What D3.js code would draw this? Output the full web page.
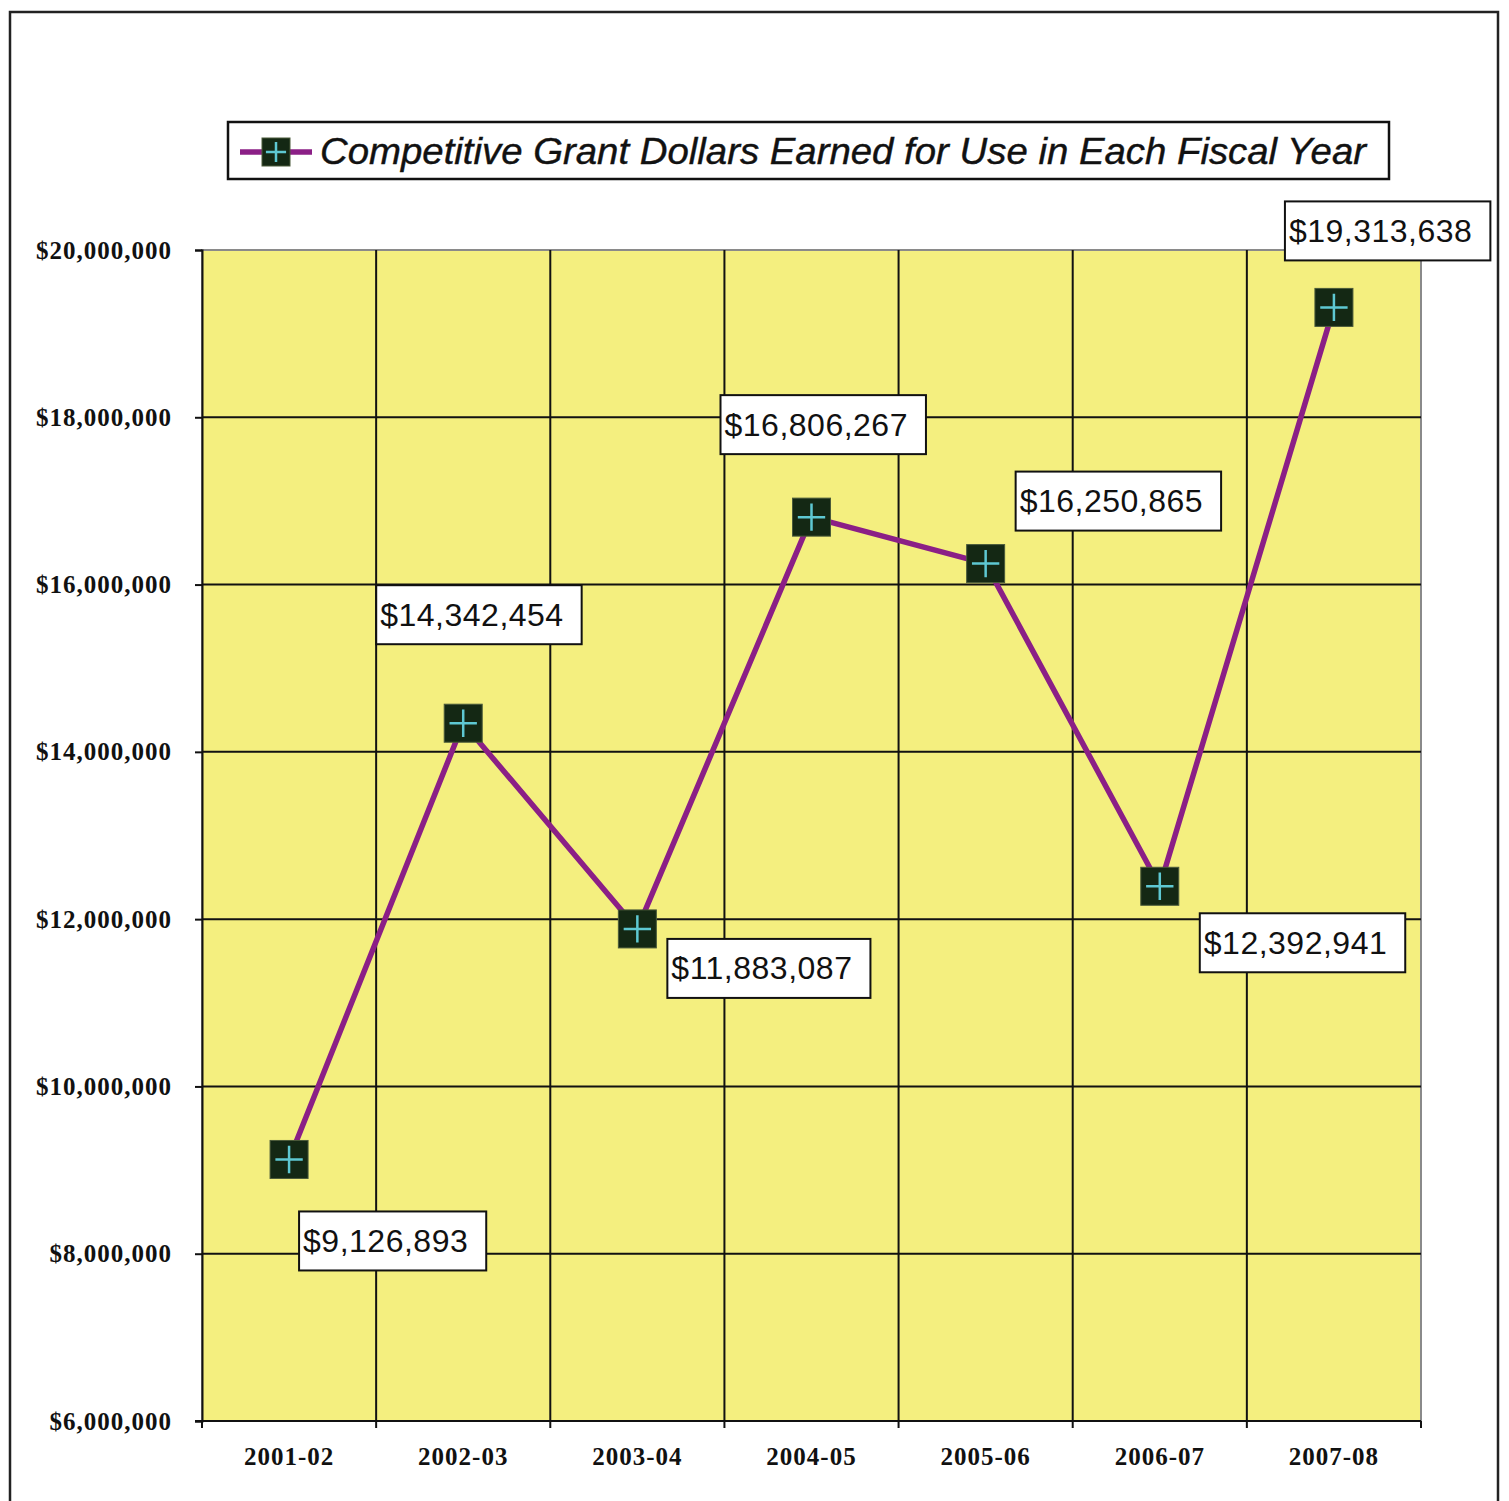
<!DOCTYPE html>
<html>
<head>
<meta charset="utf-8">
<script src="https://cdn.jsdelivr.net/npm/d3@7"></script>
<style>
  body { margin: 0; background: #fff; }
  svg { display: block; }
</style>
</head>
<body>
<div class="chart"></div>
<script>
const years = ["2001-02", "2002-03", "2003-04", "2004-05", "2005-06", "2006-07", "2007-08"];
const dollars = [9126893, 14342454, 11883087, 16806267, 16250865, 12392941, 19313638];
const yTicks = [6000000, 8000000, 10000000, 12000000, 14000000, 16000000, 18000000, 20000000];
const seriesName = "Competitive Grant Dollars Earned for Use in Each Fiscal Year";

// label box top-left offsets from each point
const labelDx = [10, -87, 30, -91, 30, 40, -49];
const labelDy = [52, -138, 10, -122, -92, 27, -106];

const W = 1509, H = 1501;
const plotL = 202, plotR = 1421, plotT = 250, plotB = 1421;

const svg = d3.select('.chart').append('svg')
  .attr('width', W).attr('height', H);

// outer frame (bottom edge cut off in the original)
svg.append('path')
  .attr('d', `M10,${H + 2} V12 H1498 V${H + 2}`)
  .attr('fill', 'none').attr('stroke', '#222').attr('stroke-width', 2.5);

const x = d3.scaleBand().domain(years).range([plotL, plotR]);
const y = d3.scaleLinear().domain([6000000, 20000000]).range([plotB, plotT]);

svg.append('rect')
  .attr('x', plotL).attr('y', plotT)
  .attr('width', plotR - plotL).attr('height', plotB - plotT)
  .attr('fill', '#f4ef7f')
  .attr('stroke', '#8a8a8a').attr('stroke-width', 2);

// horizontal gridlines
svg.append('g').selectAll('line')
  .data(yTicks.filter(d => d > 6000000 && d < 20000000))
  .join('line')
  .attr('x1', plotL).attr('x2', plotR)
  .attr('y1', d => y(d)).attr('y2', d => y(d))
  .attr('stroke', '#111').attr('stroke-width', 2);

// vertical gridlines between categories
const bounds = years.slice(1).map(d => x(d));
svg.append('g').selectAll('line')
  .data(bounds)
  .join('line')
  .attr('x1', d => d).attr('x2', d => d)
  .attr('y1', plotT).attr('y2', plotB + 7)
  .attr('stroke', '#111').attr('stroke-width', 2);

const tickFont = '"Liberation Serif", "Times New Roman", serif';

// axes
const yAxis = svg.append('g')
  .attr('transform', `translate(${plotL},0)`)
  .call(d3.axisLeft(y).tickValues(yTicks).tickSize(7).tickPadding(23)
    .tickFormat(d => '$' + d3.format(',')(d)));
yAxis.select('.domain').attr('stroke', '#111').attr('stroke-width', 2);
yAxis.selectAll('.tick line').attr('stroke', '#111').attr('stroke-width', 2);
yAxis.selectAll('.tick text')
  .attr('font-family', tickFont).attr('letter-spacing', 1)
  .attr('font-weight', 'bold').attr('font-size', 25).attr('fill', '#111');

const xAxis = svg.append('g')
  .attr('transform', `translate(0,${plotB})`)
  .call(d3.axisBottom(x).tickSize(0).tickPadding(26));
xAxis.select('.domain').remove();
xAxis.append('line')
  .attr('x1', plotL - 7).attr('x2', plotR)
  .attr('stroke', '#111').attr('stroke-width', 2);
xAxis.selectAll('.edge')
  .data([plotL, plotR])
  .join('line')
  .attr('x1', d => d).attr('x2', d => d)
  .attr('y1', 0).attr('y2', 7)
  .attr('stroke', '#111').attr('stroke-width', 2);
xAxis.selectAll('.tick text')
  .attr('font-family', tickFont).attr('letter-spacing', 1)
  .attr('font-weight', 'bold').attr('font-size', 25).attr('fill', '#111');

const cx = d => x(d) + x.bandwidth() / 2;
const pts = years.map((d, i) => ({ year: d, v: dollars[i], i }));

// series line
svg.append('path')
  .datum(pts)
  .attr('d', d3.line().x(d => cx(d.year)).y(d => y(d.v)))
  .attr('fill', 'none').attr('stroke', '#8b1f86').attr('stroke-width', 5.5)
  .attr('stroke-linejoin', 'round');

const marker = (g, s) => {
  g.append('rect')
    .attr('x', -s / 2).attr('y', -s / 2).attr('width', s).attr('height', s)
    .attr('fill', '#142814').attr('stroke', '#4a5a3a').attr('stroke-width', 1);
  const a = s * 0.36;
  g.append('path')
    .attr('d', `M${-a},0H${a}M0,${-a}V${a}`)
    .attr('stroke', '#5ec8d2').attr('stroke-width', 2.5);
};

svg.append('g').selectAll('g')
  .data(pts)
  .join('g')
  .attr('transform', d => `translate(${cx(d.year)},${y(d.v)})`)
  .each(function () { marker(d3.select(this), 38); });

// data labels, box sized to its text
const bh = 59;
const lab = svg.append('g').selectAll('g')
  .data(pts)
  .join('g')
  .attr('transform', d => `translate(${cx(d.year) + labelDx[d.i]},${y(d.v) + labelDy[d.i]})`);
const rects = lab.append('rect')
  .attr('height', bh)
  .attr('fill', '#fff').attr('stroke', '#111').attr('stroke-width', 2);
const texts = lab.append('text')
  .attr('x', 4).attr('y', bh / 2 + 11)
  .attr('font-family', '"Liberation Sans", Arial, sans-serif')
  .attr('font-size', 32).attr('letter-spacing', 0.5).attr('fill', '#111')
  .text(d => '$' + d3.format(',')(d.v));
texts.each(function (d, i) {
  const w = this.getComputedTextLength();
  d3.select(rects.nodes()[i]).attr('width', w + 22);
});

// legend
const lg = svg.append('g');
lg.append('rect')
  .attr('x', 228).attr('y', 122).attr('width', 1161).attr('height', 57)
  .attr('fill', '#fff').attr('stroke', '#111').attr('stroke-width', 2.5);
lg.append('line')
  .attr('x1', 240).attr('x2', 312).attr('y1', 152).attr('y2', 152)
  .attr('stroke', '#8b1f86').attr('stroke-width', 5.5);
const lm = lg.append('g').attr('transform', 'translate(276,152)');
marker(lm, 28);
lg.append('text')
  .attr('x', 320).attr('y', 164)
  .attr('font-family', '"Liberation Sans", Arial, sans-serif')
  .attr('font-style', 'italic').attr('font-size', 36).attr('fill', '#111')
  .attr('stroke', '#111').attr('stroke-width', 0.4)
  .attr('textLength', 1046).attr('lengthAdjust', 'spacingAndGlyphs')
  .text(seriesName);
</script>
</body>
</html>
